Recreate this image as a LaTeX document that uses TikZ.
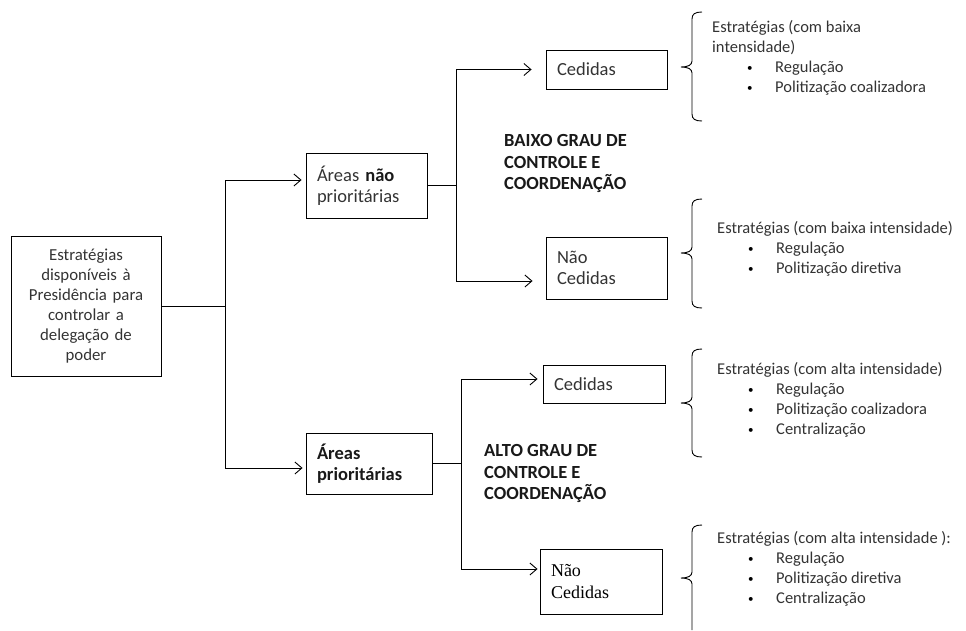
\documentclass[tikz,border=0pt]{standalone}
\usepackage{fontspec}
\setmainfont{Carlito}
\newfontfamily\serifa{Liberation Serif}
\usetikzlibrary{arrows.meta}

\newcommand{\marca}[2][31pt]{\hspace*{#1}\makebox[28pt][l]{\color{black}\raisebox{1pt}{\fontsize{11}{11}\selectfont\textbullet}}#2}
\newcommand{\chave}[3]{%
  \draw[chave] (702,#1) .. controls (695,#1) and (692,#1+2) .. (692,#1+7)
    -- (692,#2-6) .. controls (692,#2-2) and (688,#2) .. (681,#2)
    .. controls (688,#2) and (692,#2+2) .. (692,#2+6)
    -- (692,#3-7) .. controls (692,#3-2) and (695,#3) .. (702,#3);}

\tikzset{
  caixa/.style={draw, line width=0.9pt, inner sep=0pt, inner xsep=11pt,
    align=left, text=black!80, font=\fontsize{18.5}{21}\selectfont},
  ramo/.style={line width=0.9pt},
  seta/.style={ramo, -{Straight Barb[length=7pt,width=12pt,line width=0.9pt]}},
  chave/.style={line width=0.9pt},
  lista/.style={anchor=west, align=left, inner sep=0pt, text=black!80,
    font=\fontsize{16.5}{20}\selectfont},
  grau/.style={anchor=west, align=left, inner sep=0pt, text=black!90,
    font=\fontsize{18.5}{21.5}\selectfont\bfseries},
}

\begin{document}
\begin{tikzpicture}[x=1pt,y=-1pt]
	\useasboundingbox (0,0) rectangle (966,630);

	% caixas
	\node[caixa, text width=140pt, inner xsep=5pt, minimum height=140pt, align=center,
		font=\fontsize{16.8}{20}\selectfont] (raiz) at (86,306)
		{Estratégias\\disponíveis à\\Presidência para\\controlar a\\delegação de\\poder};
	\node[caixa, text width=99pt, minimum height=65pt] (naoprio) at (366.5,185.5) {Áreas {\color{black!90}\textbf{não}}\\prioritárias};
	\node[caixa, text width=104pt, minimum height=61pt, text=black!90,
		font=\fontsize{18.5}{21}\selectfont\bfseries] (prio) at (369,463.5) {Áreas\\prioritárias};
	\node[caixa, text width=99pt, minimum height=39pt] (ced1) at (606.5,69.5) {Cedidas};
	\node[caixa, text width=99pt, minimum height=62pt] (nced1) at (606.5,268) {Não\\Cedidas};
	\node[caixa, text width=100pt, minimum height=38pt] (ced2) at (604,384) {Cedidas};
	\node[caixa, text width=100pt, minimum height=65pt, text=black,
		font=\serifa\fontsize{18}{22}\selectfont] (nced2) at (601,581.5) {Não\\Cedidas};

	\node[grau] (baixo) at (504,163.5) {BAIXO GRAU DE\\CONTROLE E\\COORDENAÇÃO};
	\node[grau] (alto) at (484,473.5) {ALTO GRAU DE\\CONTROLE E\\COORDENAÇÃO};

	% ramos
	\coordinate (j0) at ([xshift=64pt]raiz.east);
	\coordinate (j1) at ([xshift=29pt]naoprio.east);
	\coordinate (j2) at ([xshift=29pt]prio.east);
	\draw[ramo] (raiz.east) -- (j0);
	\draw[ramo] (naoprio.east) -- (j1);
	\draw[ramo] (prio.east) -- (j2);
	\draw[seta, shorten >=4pt] (j0) |- ([yshift=5.5pt]naoprio.west);
	\draw[seta, shorten >=3pt] (j0) |- ([yshift=-4.5pt]prio.west);
	\draw[seta, shorten >=14pt] (j1) |- (ced1.west);
	\draw[seta, shorten >=13pt] (j1) |- ([yshift=-13pt]nced1.west);
	\draw[seta, shorten >=5pt] (j2) |- ([yshift=5pt]ced2.west);
	\draw[seta, shorten >=2pt] (j2) |- ([yshift=12.5pt]nced2.west);

	% chaves
	\chave{12}{67}{121}
	\chave{199}{253}{308}
	\chave{349}{403}{457}
	\draw[chave] (702,525) .. controls (695,525) and (692,527) .. (692,532)
		-- (692,572) .. controls (692,576) and (688,578) .. (681,578)
		.. controls (688,578) and (692,580) .. (692,584) -- (692,630);

	% estrategias
	\node[lista] (est1) at (712,58) {Estratégias (com baixa\\intensidade)\\
		\marca[35pt]{Regulação}\\\marca[35pt]{Politização coalizadora}};
	\node[lista] (est2) at (717,249) {Estratégias (com baixa intensidade)\\
		\marca{Regulação}\\\marca{Politização diretiva}};
	\node[lista] (est3) at (717,400) {Estratégias (com alta intensidade)\\
		\marca{Regulação}\\\marca{Politização coalizadora}\\\marca{Centralização}};
	\node[lista] (est4) at (717,569) {Estratégias (com alta intensidade ):\\
		\marca{Regulação}\\\marca{Politização diretiva}\\\marca{Centralização}};
\end{tikzpicture}
\end{document}
